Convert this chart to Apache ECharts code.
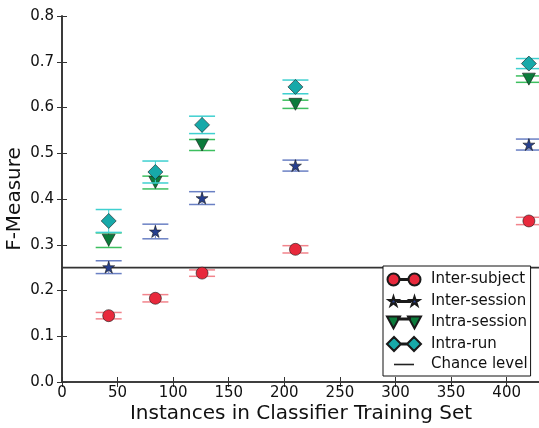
<!DOCTYPE html>
<html>
<head>
<meta charset="utf-8">
<script src="https://cdn.jsdelivr.net/npm/echarts@6/dist/echarts.min.js"></script>
<style>
html, body { margin: 0; padding: 0; background: #fff; }
#chart { width: 539px; height: 428px; }
</style>
</head>
<body>
<div id="chart"></div>
<script>
// training set sizes (x) and F-measure per condition
var trainSizes = [42, 84, 126, 210, 420];
var interSubject = [0.145, 0.183, 0.238, 0.290, 0.352];
var interSubjectErr = [0.007, 0.008, 0.007, 0.008, 0.008];
var interSession = [0.251, 0.329, 0.402, 0.473, 0.519];
var interSessionErr = [0.014, 0.016, 0.014, 0.012, 0.012];
var intraSession = [0.310, 0.436, 0.518, 0.607, 0.662];
var intraSessionErr = [0.016, 0.014, 0.012, 0.009, 0.007];
var intraRun = [0.352, 0.459, 0.562, 0.645, 0.696];
var intraRunErr = [0.025, 0.024, 0.019, 0.015, 0.011];
var chanceLevel = [0.25];
var xRange = [0, 430];
var yRange = [0, 0.8];

var FONT = 'DejaVu Sans';
var AXIS = '#333';

// 5 point star as svg path
function star(cx, cy, R) {
	var r = R * 0.382, s = '';
	for (var k = 0; k < 10; k++) {
		var a = (-90 + 36 * k) * Math.PI / 180, rr = k % 2 ? r : R;
		s += (k ? 'L' : 'M') + (cx + rr * Math.cos(a)).toFixed(2) + ',' + (cy + rr * Math.sin(a)).toFixed(2);
	}
	return s + 'Z';
}
function circle(cx, cy, r) {
	return 'M' + (cx - r) + ',' + cy + 'a' + r + ',' + r + ' 0 1,0 ' + (2 * r) + ',0a' + r + ',' + r + ' 0 1,0 ' + (-2 * r) + ',0Z';
}
function tri(cx, cy, w, h) {
	return 'M' + (cx - w / 2) + ',' + (cy - h / 2) + 'L' + (cx + w / 2) + ',' + (cy - h / 2) + 'L' + cx + ',' + (cy + h / 2) + 'Z';
}
function dia(cx, cy, h) {
	return 'M' + (cx - h) + ',' + cy + 'L' + cx + ',' + (cy - h) + 'L' + (cx + h) + ',' + cy + 'L' + cx + ',' + (cy + h) + 'Z';
}
function bar(x1, x2, cy, t) {
	return 'M' + x1 + ',' + (cy - t / 2) + 'L' + x2 + ',' + (cy - t / 2) + 'L' + x2 + ',' + (cy + t / 2) + 'L' + x1 + ',' + (cy + t / 2) + 'Z';
}
// zero length sub-paths keep every legend icon at the same 34x15 box
var corners = 'M0,0L0,0M34,15L34,15';

var groups = [
	{name: 'Inter-subject', y: interSubject, err: interSubjectErr, color: '#e8293c', cap: '#f2848c',
		symbol: 'circle', size: 12, rotate: 0,
		icon: corners + circle(6.5, 7.5, 6) + circle(27.5, 7.5, 6) + bar(12.5, 21.5, 7.5, 0.8)},
	{name: 'Inter-session', y: interSession, err: interSessionErr, color: '#263f8e', cap: '#6a80c4',
		symbol: 'path://' + star(50, 50, 50), size: 12, rotate: 0,
		icon: corners + star(6.5, 8, 5) + star(27.5, 8, 5) + bar(11, 23, 8, 0.8)},
	{name: 'Intra-session', y: intraSession, err: intraSessionErr, color: '#0b7b3b', cap: '#3dbf5f',
		symbol: 'triangle', size: [13, 12], rotate: 180,
		icon: corners + tri(6.5, 7.5, 13, 12) + tri(27.5, 7.5, 13, 12) + bar(11, 23, 4, 0.8)},
	{name: 'Intra-run', y: intraRun, err: intraRunErr, color: '#17a9a9', cap: '#3fd0d0',
		symbol: 'diamond', size: 15, rotate: 0,
		icon: corners + dia(7, 7.5, 7) + dia(27, 7.5, 7) + bar(14, 20, 7.5, 0.8)}
];

var series = [];
var legendData = [];

series.push({
	name: 'Chance level',
	type: 'custom',
	data: chanceLevel.map(function (v) { return [v]; }),
	itemStyle: {color: '#222'},
	z: 1,
	renderItem: function (params, api) {
		var a = api.coord([xRange[0], api.value(0)]);
		var b = api.coord([xRange[1], api.value(0)]);
		return {type: 'line', shape: {x1: a[0], y1: a[1], x2: b[0], y2: b[1]},
			style: {stroke: '#333', lineWidth: 1.6}};
	}
});

groups.forEach(function (g, gi) {
	var pts = [], errs = [];
	for (var i = 0; i < trainSizes.length; i++) {
		pts.push([trainSizes[i], g.y[i]]);
		errs.push([trainSizes[i], g.y[i] - g.err[i], g.y[i] + g.err[i]]);
	}
	series.push({
		name: g.name + ' err',
		type: 'custom',
		data: errs,
		z: 2 + gi * 2,
		silent: true,
		renderItem: function (params, api) {
			var lo = api.coord([api.value(0), api.value(1)]);
			var hi = api.coord([api.value(0), api.value(2)]);
			var hw = 13, st = {stroke: g.cap, lineWidth: 1.5};
			return {type: 'group', children: [
				{type: 'line', shape: {x1: hi[0], y1: hi[1], x2: lo[0], y2: lo[1]}, style: {stroke: g.cap, lineWidth: 1}},
				{type: 'line', shape: {x1: hi[0] - hw, y1: hi[1], x2: hi[0] + hw, y2: hi[1]}, style: st},
				{type: 'line', shape: {x1: lo[0] - hw, y1: lo[1], x2: lo[0] + hw, y2: lo[1]}, style: st}
			]};
		}
	});
	series.push({
		name: g.name,
		type: 'scatter',
		data: pts,
		z: 3 + gi * 2,
		symbol: g.symbol,
		symbolSize: g.size,
		symbolRotate: g.rotate,
		itemStyle: {color: g.color, borderColor: '#1a1a1a', borderWidth: 0.6, opacity: 1}
	});
	legendData.push({name: g.name, icon: 'path://' + g.icon});
});
legendData.push({name: 'Chance level', icon: 'path://' + corners + bar(7, 27, 7.5, 1.6)});

var myChart = echarts.init(document.getElementById('chart'), null, {renderer: 'canvas'});
var tickStyle = {show: true, inside: true, length: 5, lineStyle: {color: AXIS, width: 1}};
var lineStyle = {show: true, lineStyle: {color: AXIS, width: 1.6}};
var option = {
	animation: false,
	backgroundColor: '#fff',
	textStyle: {fontFamily: FONT},
	grid: {left: 62, top: 16, width: 478, height: 366, containLabel: false, outerBoundsMode: 'none'},
	xAxis: [{
		type: 'value', min: xRange[0], max: xRange[1], interval: 50,
		name: 'Instances in Classifier Training Set', nameLocation: 'middle', nameGap: 22, nameMoveOverlap: false,
		nameTextStyle: {fontSize: 20, color: '#111', fontFamily: FONT},
		axisLine: lineStyle, axisTick: tickStyle, splitLine: {show: false},
		axisLabel: {fontSize: 15, color: '#111', margin: 4, fontFamily: FONT, showMaxLabel: false,
			formatter: function (v) { return v % 50 === 0 ? String(v) : ''; }}
	}, {
		type: 'value', position: 'top', min: xRange[0], max: xRange[1], interval: 50,
		axisLine: lineStyle, axisTick: tickStyle, splitLine: {show: false}, axisLabel: {show: false}
	}],
	yAxis: [{
		type: 'value', min: yRange[0], max: yRange[1], interval: 0.1,
		name: 'F-Measure', nameLocation: 'middle', nameGap: 37, nameMoveOverlap: false,
		nameTextStyle: {fontSize: 20, color: '#111', fontFamily: FONT},
		axisLine: lineStyle, axisTick: tickStyle, splitLine: {show: false},
		axisLabel: {fontSize: 15, color: '#111', margin: 8, fontFamily: FONT,
			formatter: function (v) { return v.toFixed(1); }}
	}, {
		type: 'value', position: 'right', min: yRange[0], max: yRange[1], interval: 0.1,
		axisLine: lineStyle, axisTick: tickStyle, splitLine: {show: false}, axisLabel: {show: false}
	}],
	legend: {
		data: legendData,
		orient: 'vertical',
		left: 383, top: 266,
		padding: [5, 3, 4, 3],
		itemWidth: 34, itemHeight: 15, itemGap: 4.5,
		backgroundColor: '#fff',
		borderColor: '#111', borderWidth: 1, borderRadius: 0,
		selectedMode: false,
		textStyle: {fontSize: 15, color: '#111', fontFamily: FONT, lineHeight: 15, padding: [0, 0, 0, 5]}
	},
	series: series
};
myChart.setOption(option);
</script>
</body>
</html>
